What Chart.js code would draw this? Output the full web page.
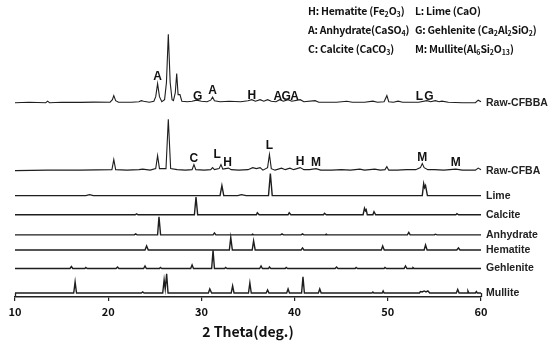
<!DOCTYPE html>
<html><head><meta charset="utf-8">
<script src="https://cdn.jsdelivr.net/npm/chart.js@4/dist/chart.umd.min.js"></script>
<style>
html,body{margin:0;padding:0;background:#fff;}
#wrap{position:relative;width:550px;height:346px;}
#legend{position:absolute;left:0;top:0;width:550px;height:70px;font-family:"Noto Sans CJK KR","Noto Sans",sans-serif;font-weight:bold;font-size:10.5px;letter-spacing:-0.25px;color:#111;pointer-events:none;}
#legend .item{position:absolute;white-space:nowrap;line-height:14px;}
#legend sub{font-size:7px;vertical-align:-2px;line-height:0;letter-spacing:0;}
</style></head>
<body><div id="wrap"><canvas id="c" width="550" height="346"></canvas><div id="legend"></div></div>
<script>
// ---- data (2θ in degrees, intensity in arbitrary units above each pattern's own baseline) ----
const seriesNames = ['Raw-CFBBA','Raw-CFBA','Lime','Calcite','Anhydrate','Hematite','Gehlenite','Mullite'];
const stackOffsets = [193, 125.5, 100.7, 81.7, 61.7, 46.7, 28.3, 4];

const rawCFBBA = [[10,0],[11.5,0.5],[13.3,0],[13.5,1.5],[13.7,0],[15,0.5],[17,0.3],[18.5,0.6],[20.2,0.5],[20.45,3],[20.6,7],[20.8,2],[21.1,0.5],[22.5,0.5],[23.3,1],[23.55,2],[23.8,1.5],[24.4,0.5],[24.9,1.5],[25.1,6],[25.3,19],[25.5,6],[25.75,1],[26.05,3],[26.25,20],[26.45,68],[26.65,20],[26.85,3],[27.0,2],[27.2,10],[27.35,29],[27.5,8],[27.7,8],[27.9,1.5],[28.5,1],[29.0,1.5],[29.5,2.5],[30.0,1.5],[30.6,1],[31.0,2.5],[31.2,5.5],[31.4,2],[32.0,1],[33,1.5],[34.2,1],[35.0,2],[35.4,3],[35.8,1.5],[36.3,3],[36.7,1.5],[37.1,3],[37.5,1.5],[38.0,1],[38.4,3],[38.8,1.5],[39.3,3],[39.7,1.5],[40.6,3],[41.0,1],[42.2,2],[42.6,0.5],[43.5,0.5],[44.5,0.5],[45.6,1.5],[46.2,0.5],[47.5,0.5],[48.4,1.5],[48.9,0.5],[49.6,1],[49.9,7],[50.1,1],[50.6,0.5],[51.1,1.5],[51.6,0.5],[52.5,0.5],[53.3,0.5],[54.2,2],[54.6,1],[55.1,2],[55.5,1],[55.8,1.5],[56.5,0.5],[58,0],[59.4,0],[59.7,2.5],[60,1]];

const rawCFBA = [[10,0],[13.5,0.5],[17,0.5],[20.4,1],[20.6,11],[20.8,1],[22,0.5],[23.3,1],[23.7,1.5],[24.5,0.5],[25.1,2],[25.3,15],[25.5,2],[26.2,2],[26.45,51],[26.7,2],[27.4,1],[28.3,0.5],[29.0,1],[29.2,6],[29.4,1],[30.3,0.5],[31.0,1],[31.2,3],[31.4,1],[31.9,2],[32.1,6],[32.3,1.5],[32.9,2.5],[33.2,1],[34,0.5],[35.0,1],[35.5,3],[35.9,2],[36.3,3],[36.6,0.5],[37.1,3],[37.3,16],[37.5,2],[37.9,0.5],[38.6,2.5],[39.0,1],[39.5,2.5],[39.9,1],[40.6,3],[41.0,1],[41.6,1],[42.3,2],[42.8,0.5],[44,0.5],[45,1],[46,0.5],[47,1.5],[47.5,0.5],[48.6,1.5],[49.2,0.5],[49.7,1],[49.9,4],[50.1,0.5],[51,0.5],[52,1],[53.0,1],[53.5,3],[53.7,7],[53.9,3],[54.3,1],[55,1],[56,0.5],[57.3,1.5],[58,0.5],[59.4,0.5],[59.7,2.5],[60,1]];

const lime = [[10,0],[17.6,0],[18,1],[18.4,0],[32.0,0],[32.2,10],[32.4,0],[33.9,0],[34.3,1],[34.8,0],[37.2,0],[37.4,22],[37.6,0],[53.7,0],[53.85,12],[53.95,8],[54.05,10],[54.25,0],[60,0]];

const calcite = [[10,0],[22.9,0],[23.05,1],[23.2,0],[29.25,0],[29.42,17.5],[29.6,0],[35.9,0],[36.0,2],[36.2,0],[39.3,0],[39.42,2],[39.6,0],[43.1,0],[43.2,1.5],[43.4,0],[47.35,0],[47.5,6.5],[47.6,4],[47.68,5],[47.8,0],[48.4,0],[48.52,3],[48.7,0],[57.3,0],[57.42,1],[57.6,0],[60,0]];

const anhydrate = [[10,0],[22.8,0],[22.95,1],[23.1,0],[25.3,0],[25.45,18],[25.62,0],[31.25,0],[31.4,2],[31.55,0],[35.4,0],[35.5,0.7],[35.6,0],[38.5,0],[38.65,1],[38.8,0],[40.7,0],[40.85,1],[41.0,0],[43.3,0],[43.4,0.7],[43.5,0],[52.1,0],[52.25,2.5],[52.4,0],[55.0,0],[55.1,0.7],[55.3,0],[60,0]];

const hematite = [[10,0],[23.95,0],[24.12,4],[24.3,0],[33.0,0],[33.15,12.5],[33.32,0],[35.45,0],[35.6,9],[35.77,0],[40.7,0],[40.85,2],[41.0,0],[49.3,0],[49.45,4],[49.62,0],[53.9,0],[54.05,5],[54.22,0],[57.4,0],[57.58,2],[57.75,0],[60,0]];

const gehlenite = [[10,0],[15.9,0],[16.05,2],[16.2,0],[17.5,0],[17.6,1],[17.75,0],[20.85,0],[21.0,1.5],[21.15,0],[23.8,0],[23.95,2.5],[24.1,0],[25.5,0],[25.6,1],[25.75,0],[28.85,0],[29.0,3.5],[29.15,0],[31.1,0],[31.25,18],[31.4,0],[32.5,0],[32.6,1],[32.75,0],[36.25,0],[36.4,2.5],[36.55,0],[37.2,0],[37.3,1.5],[37.45,0],[39.0,0],[39.1,1],[39.25,0],[44.35,0],[44.5,1.5],[44.65,0],[46.5,0],[46.6,1],[46.75,0],[49.6,0],[49.7,1],[49.85,0],[51.75,0],[51.9,2.5],[52.05,0],[52.6,0],[52.7,1],[52.85,0],[60,0]];

const mullite = [[10,0],[16.3,0],[16.45,11],[16.6,0],[23.55,0],[23.7,1],[23.85,0],[25.85,0],[26.0,13],[26.12,4],[26.27,19],[26.42,0],[30.75,0],[30.9,4],[31.1,0],[33.2,0],[33.35,7],[33.5,0],[35.05,0],[35.2,10],[35.35,0],[36.95,0],[37.1,3],[37.25,0],[39.15,0],[39.3,4],[39.45,0],[40.75,0],[40.9,16],[41.05,0],[42.55,0],[42.7,4],[42.85,0],[48.3,0],[48.4,1],[48.5,0],[49.4,0],[49.5,2],[49.6,0],[53.4,0],[53.5,1.5],[53.7,1],[53.9,2],[54.1,1],[54.3,2],[54.5,0],[57.35,0],[57.5,3.5],[57.65,0],[58.5,0],[58.6,2],[58.7,0],[59.4,0],[59.5,1.5],[59.6,0],[60,0]];

const seriesData = [rawCFBBA, rawCFBA, lime, calcite, anhydrate, hematite, gehlenite, mullite];

// peak labels: [letter, 2θ, height above the pattern baseline, pattern index]
const peakLabels = [
  ['A',25.3,26,0],['G',29.6,6,0],['A',31.2,12,0],['H',35.4,6.5,0],
  ['A',38.2,5.5,0],['G',39.1,5.5,0],['A',40.0,5.5,0],['L',53.4,5.5,0],['G',54.4,5.5,0],
  ['C',29.2,12,1],['L',31.7,15.5,1],['H',32.8,8,1],['L',37.3,24.5,1],
  ['H',40.6,9,1],['M',42.3,8,1],['M',53.7,13,1],['M',57.3,8,1]
];

const xTicks = [10,20,30,40,50,60];
const xTitle = '2 Theta(deg.)';

// legend: [prefix, formula parts as [text, isSubscript], suffix]
const legendCol1 = [
  ['H: Hematite (', [['Fe',0],['2',1],['O',0],['3',1]], ')'],
  ['A: Anhydrate(', [['CaSO',0],['4',1]], ')'],
  ['C: Calcite (', [['CaCO',0],['3',1]], ')']
];
const legendCol2 = [
  ['L: Lime (', [['CaO',0]], ')'],
  ['G: Gehlenite  (', [['Ca',0],['2',1],['Al',0],['2',1],['SiO',0],['2',1]], ')'],
  ['M: Mullite(', [['Al',0],['6',1],['Si',0],['2',1],['O',0],['13',1]], ')']
];

// ---- legend (HTML text) ----
const leg = document.getElementById('legend');
function addLegend(col, left) {
  col.forEach((e, i) => {
    const d = document.createElement('div');
    d.className = 'item';
    d.style.left = left + 'px';
    d.style.top = (4 + i * 19) + 'px';
    let html = e[0];
    e[1].forEach(([t, s]) => { html += s ? '<sub>' + t + '</sub>' : t; });
    html += e[2];
    d.innerHTML = html;
    leg.appendChild(d);
  });
}
addLegend(legendCol1, 308);
addLegend(legendCol2, 415);

// ---- chart ----
const textPlugin = {
  id: 'xrdText',
  afterDatasetsDraw(chart) {
    const ctx = chart.ctx, xs = chart.scales.x, ys = chart.scales.y, ca = chart.chartArea;
    ctx.save();
    // axis end caps
    ctx.strokeStyle = '#222'; ctx.lineWidth = 1.3;
    [xTicks[0], xTicks[xTicks.length - 1]].forEach(v => {
      const px = Math.round(xs.getPixelForValue(v)) + 0.5;
      ctx.beginPath(); ctx.moveTo(px, ca.bottom - 4); ctx.lineTo(px, ca.bottom); ctx.stroke();
    });
    // series names
    ctx.fillStyle = '#222';
    ctx.font = 'bold 10.5px "Liberation Sans", Arial, sans-serif';
    ctx.textBaseline = 'middle'; ctx.textAlign = 'left';
    seriesNames.forEach((n, i) => {
      ctx.fillText(n, ca.right + 5, ys.getPixelForValue(stackOffsets[i]));
    });
    // peak letters
    ctx.font = 'bold 12px "Liberation Sans", Arial, sans-serif';
    ctx.textAlign = 'center';
    ctx.fillStyle = '#111';
    peakLabels.forEach(([t, x, h, si]) => {
      ctx.fillText(t, xs.getPixelForValue(x), ys.getPixelForValue(stackOffsets[si] + h));
    });
    ctx.restore();
  }
};

new Chart(document.getElementById('c'), {
  type: 'line',
  data: {
    datasets: seriesData.map((s, i) => ({
      label: seriesNames[i],
      data: s.map(([x, h]) => ({ x: x, y: h + stackOffsets[i] })),
      borderColor: '#1e1e1e',
      borderWidth: i < 2 ? 1.1 : 1.4,
      pointRadius: 0,
      tension: 0,
      fill: false
    }))
  },
  options: {
    responsive: false,
    animation: false,
    devicePixelRatio: 1,
    clip: false,
    layout: { padding: { left: 15, right: 69, top: 0, bottom: 6 } },
    plugins: { legend: { display: false }, tooltip: { enabled: false } },
    scales: {
      x: {
        type: 'linear', min: 10, max: 60,
        afterBuildTicks: (sc) => { sc.ticks = xTicks.map(v => ({ value: v })); },
        ticks: { padding: 4, color: '#111', font: { family: '"Noto Sans CJK KR", "Noto Sans", sans-serif', weight: 'bold', size: 11 } },
        grid: { display: true, drawOnChartArea: false, drawTicks: true, tickLength: 4, color: '#222', lineWidth: 1.2 },
        border: { display: true, color: '#222', width: 1.5 },
        title: { display: true, text: xTitle, color: '#111', padding: { top: 1, bottom: 0 }, font: { family: '"Noto Sans CJK KR", "Noto Sans", sans-serif', weight: 'bold', size: 14 } }
      },
      y: { display: false, min: 0, max: 295 }
    }
  },
  plugins: [textPlugin]
});
</script>
</body></html>
